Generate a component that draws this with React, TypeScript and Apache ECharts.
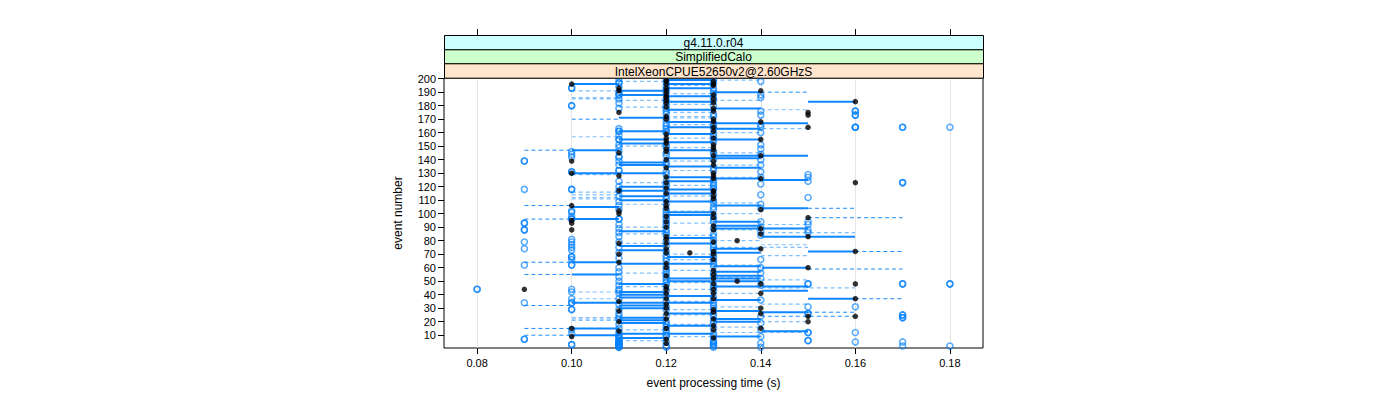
import React, { useEffect, useRef } from "react";
import * as echarts from "echarts";

const xTicks = [0.08, 0.1, 0.12, 0.14, 0.16, 0.18];
const yTicks = [10, 20, 30, 40, 50, 60, 70, 80, 90, 100, 110, 120, 130, 140, 150, 160, 170, 180, 190, 200];
const stripLabels = ["g4.11.0.r04", "SimplifiedCalo", "IntelXeonCPUE52650v2@2.60GHzS"];
const xTitle = "event processing time (s)";
const yTitle = "event number";

// blue open circles: time (hundredths of s) and events at that time
const blueTimes = [8, 9, 10, 11, 12, 13, 14, 15, 16, 17, 18];
const blueEvents = [
  [44, 44],
  [139, 139, 118, 93, 93, 88, 88, 79, 74, 62, 34, 7, 7],
  [193, 193, 180, 180, 146, 144, 142, 131, 131, 118, 118, 102, 101, 98, 96, 96, 81, 79, 77, 75, 73, 68, 68, 66, 62, 62, 44, 42, 37, 34, 34, 29, 29, 14, 11, 3, 3],
  [200, 197, 197, 194, 190, 188, 188, 185, 182, 178, 163, 161, 161, 158, 155, 155, 151, 149, 146, 142, 142, 139, 136, 132, 132, 124, 120, 117, 113, 109, 106, 103, 96, 96, 92, 89, 86, 83, 79, 75, 71, 67, 60, 57, 53, 50, 47, 44, 43, 41, 37, 33, 29, 26, 24, 22, 18, 15, 12, 10, 9, 8, 7, 6, 5, 4, 3, 2, 1, 1, 2, 3, 4, 5],
  [200, 197, 194, 192, 190, 185, 183, 180, 178, 176, 174, 170, 167, 165, 163, 161, 160, 151, 149, 145, 143, 138, 136, 131, 129, 124, 122, 120, 117, 113, 111, 107, 103, 101, 99, 97, 95, 93, 91, 88, 86, 84, 80, 76, 72, 69, 67, 65, 61, 59, 57, 55, 53, 51, 49, 47, 43, 39, 35, 31, 29, 24, 20, 18, 16, 14, 12, 10, 9, 5, 2, 1],
  [199, 197, 193, 191, 189, 186, 184, 180, 174, 172, 167, 165, 163, 159, 157, 155, 153, 146, 144, 140, 134, 132, 125, 123, 121, 119, 118, 114, 110, 108, 105, 103, 98, 96, 94, 89, 85, 83, 80, 77, 75, 73, 69, 67, 65, 63, 61, 56, 54, 47, 45, 43, 38, 36, 34, 32, 30, 26, 24, 21, 19, 15, 11, 9, 6, 5, 4, 3, 2, 1],
  [198, 188, 186, 176, 173, 166, 164, 160, 151, 148, 144, 140, 136, 131, 127, 122, 114, 107, 104, 94, 90, 87, 84, 66, 60, 56, 52, 47, 36, 24, 19, 14, 9, 4, 1],
  [129, 127, 124, 112, 94, 92, 88, 86, 48, 48, 31, 26, 26, 12, 12, 6, 6],
  [176, 176, 173, 173, 164, 164, 164, 31, 12, 5],
  [164, 164, 123, 123, 48, 48, 25, 25, 23, 23, 5, 2],
  [164, 48, 48, 2],
];

// black filled dots: time (hundredths of s) and events
const blackTimes = [9, 10, 11, 12, 12.5, 13, 13.5, 14, 15, 16];
const blackEvents = [
  [44],
  [196, 139, 130, 106, 95, 93, 88, 15, 9],
  [193, 191, 175, 145, 128, 117, 102, 100, 78, 70, 64, 35, 28, 20, 13],
  [199, 198, 196, 193, 191, 189, 187, 186, 184, 182, 179, 172, 170, 159, 156, 154, 152, 148, 146, 140, 134, 127, 123, 119, 115, 109, 106, 104, 98, 94, 90, 83, 81, 78, 74, 71, 63, 60, 54, 46, 44, 41, 37, 33, 30, 26, 22, 15, 7, 4],
  [71],
  [198, 196, 195, 188, 185, 182, 178, 176, 170, 168, 164, 161, 156, 151, 149, 147, 143, 139, 136, 130, 128, 126, 117, 116, 113, 111, 100, 97, 91, 88, 79, 72, 70, 66, 58, 55, 52, 48, 44, 41, 37, 29, 27, 22, 17, 14, 8],
  [80, 50],
  [191, 168, 155, 143, 126, 103, 89, 85, 74, 48, 41, 30, 26, 15],
  [175, 173, 164, 97, 83, 60, 24, 20],
  [183, 123, 72, 48, 37, 24],
];

// segments: [event, from, to] in hundredths of s
const solidSegments = [
  [199, 12, 13], [196, 10, 11], [196, 12, 13], [193, 12, 13], [191, 11, 12], [190, 13, 14], [188, 11, 12], [187, 12, 13],
  [183, 15, 16], [183, 12, 13], [178, 13, 14], [177, 12, 13], [171, 11, 12], [168, 12, 13], [167, 13, 15], [164, 12, 13],
  [163, 13, 14], [161, 11, 12], [159, 12, 13], [155, 11, 12], [155, 13, 14], [153, 12, 13], [152, 11, 12], [147, 10, 11],
  [147, 12, 13], [143, 13, 15], [141, 12, 13], [141, 13, 14], [138, 11, 12], [136, 11, 12], [135, 12, 13], [134, 13, 14],
  [130, 10, 11], [130, 11, 12], [127, 12, 13], [126, 13, 14], [125, 14, 15], [124, 12, 13], [120, 11, 12], [118, 12, 13],
  [117, 11, 12], [115, 12, 13], [113, 11, 12], [110, 11, 12], [109, 12, 13], [106, 13, 14], [105, 10, 11], [104, 14, 15],
  [101, 12, 13], [99, 12, 13], [96, 10, 11], [94, 13, 14], [91, 13, 14], [89, 13, 15], [87, 11, 12], [83, 14, 16],
  [82, 12, 13], [78, 12, 13], [76, 11, 12], [74, 13, 14], [73, 11, 12], [72, 15, 16], [71, 13, 14], [68, 12, 13],
  [64, 10, 11], [63, 11, 13], [61, 13, 14], [60, 14, 15], [57, 13, 14], [55, 10, 11], [54, 13, 14], [52, 12, 14],
  [50, 12, 14], [48, 11, 12], [46, 13, 15], [43, 14, 15], [42, 11, 12], [40, 11, 12], [39, 12, 13], [38, 11, 12],
  [37, 15, 16], [36, 13, 14], [34, 10, 11], [34, 11, 13], [32, 11, 12], [30, 11, 12], [28, 13, 14], [27, 14, 15],
  [26, 12, 13], [23, 11, 12], [22, 13, 14], [21, 11, 12], [20, 13, 14], [19, 11, 12], [17, 12, 13], [15, 10, 11],
  [13, 14, 15], [11, 11, 13], [10, 10, 11], [9, 13, 14], [8, 11, 12],
];

const dashedDarkSegments = [
  [190, 14, 15], [170, 10, 11], [147, 9, 10], [106, 9, 10], [104, 15, 16], [97, 15, 17], [96, 9, 10], [72, 16, 17],
  [64, 9, 10], [59, 15, 17], [55, 9, 10], [37, 16, 17], [32, 9, 10], [27, 15, 16], [24, 14, 16], [15, 9, 10], [10, 9, 10],
];

const dashedLightSegments = [
  [199, 13, 14], [198, 11, 12], [195, 12, 13], [191, 10, 11], [189, 12, 13], [186, 10, 11], [185, 10, 11], [184, 13, 14],
  [184, 11, 12], [181, 12, 13], [179, 11, 12], [177, 14, 15], [175, 12, 13], [172, 12, 13], [171, 12, 13], [166, 12, 13],
  [163, 13, 15], [160, 13, 14], [157, 10, 11], [156, 12, 13], [150, 11, 12], [149, 12, 13], [145, 13, 14], [139, 12, 13],
  [136, 13, 14], [132, 12, 13], [129, 10, 11], [127, 13, 14], [123, 11, 12], [121, 12, 13], [116, 10, 11], [114, 10, 11],
  [113, 12, 13], [112, 10, 11], [111, 10, 11], [108, 13, 14], [107, 11, 12], [102, 12, 13], [100, 13, 14], [93, 12, 13],
  [92, 14, 15], [90, 11, 12], [88, 13, 14], [86, 14, 16], [85, 11, 12], [84, 12, 13], [80, 13, 14], [78, 11, 12],
  [77, 14, 15], [75, 13, 15], [70, 12, 13], [69, 14, 15], [66, 12, 13], [62, 13, 14], [58, 12, 13], [56, 11, 12],
  [53, 13, 14], [51, 14, 15], [49, 12, 13], [46, 11, 12], [45, 14, 16], [44, 12, 13], [42, 10, 11], [41, 13, 14],
  [37, 10, 11], [35, 12, 13], [33, 14, 15], [31, 13, 14], [29, 12, 13], [25, 12, 13], [23, 10, 11], [22, 10, 11],
  [21, 10, 11], [20, 14, 15], [18, 12, 13], [16, 13, 14], [14, 11, 12], [12, 13, 15], [9, 12, 13], [6, 11, 12],
];

const FONT = "'Liberation Sans', Arial, sans-serif";
const BLUE = "#0080ff";

function segmentSeries(data: number[][], style: any, z: number) {
  return {
    type: "custom",
    z,
    silent: true,
    data: data.map(([e, a, b]) => [e, a / 100, b / 100]),
    encode: { x: [1, 2], y: 0 },
    renderItem: (_params: any, api: any) => {
      const e = api.value(0);
      const p1 = api.coord([api.value(1), e]);
      const p2 = api.coord([api.value(2), e]);
      return {
        type: "line",
        shape: { x1: p1[0], y1: p1[1], x2: p2[0], y2: p2[1] },
        style,
      };
    },
  };
}

export default function App() {
  const ref = useRef<HTMLDivElement>(null);
  useEffect(() => {
    if (!ref.current) return;
    const chart = echarts.init(ref.current, undefined, { renderer: "svg" });
    const gridLeft = 444;
    const gridTop = 78;
    const gridW = 539;
    const gridH = 270;
    const stripH = [14.3, 14, 14.4];
    const stripColors = ["#ccffff", "#ccffcc", "#ffe5cc"];
    let sy = 35;
    const strips: any[] = [];
    stripLabels.forEach((lab, i) => {
      strips.push({
        type: "rect",
        shape: { x: gridLeft + 0.5, y: sy + 0.5, width: gridW, height: stripH[i] },
        style: { fill: stripColors[i], stroke: "#000", lineWidth: 1 },
        z: 10,
      });
      strips.push({
        type: "text",
        x: gridLeft + gridW / 2,
        y: sy + stripH[i] / 2 + 1,
        style: { text: lab, fill: "#000", font: `12px ${FONT}`, textAlign: "center", textVerticalAlign: "middle" },
        z: 11,
      });
      sy += stripH[i];
    });

    const blueData: number[][] = [];
    blueTimes.forEach((t, i) => blueEvents[i].forEach((e) => blueData.push([t / 100, e])));
    const blackData: number[][] = [];
    blackTimes.forEach((t, i) => blackEvents[i].forEach((e) => blackData.push([t / 100, e])));

    chart.setOption({
      animation: false,
      grid: {
        left: gridLeft,
        top: gridTop,
        width: gridW,
        height: gridH,
        show: true,
        borderColor: "#000",
        borderWidth: 1,
        backgroundColor: "transparent",
      },
      xAxis: [
        {
          type: "value",
          min: 0.073,
          max: 0.187,
          position: "bottom",
          axisLine: { show: false },
          splitLine: { show: false },
          axisTick: { show: true, length: 6, customValues: xTicks, lineStyle: { color: "#000" } },
          axisLabel: {
            customValues: xTicks,
            margin: 9,
            color: "#000000",
            fontFamily: FONT,
            fontSize: 11,
            formatter: (v: number) => v.toFixed(2),
          },
        },
        {
          type: "value",
          min: 0.073,
          max: 0.187,
          position: "top",
          offset: 43,
          axisLine: { show: false },
          splitLine: { show: false },
          axisTick: { show: true, length: 6, customValues: xTicks, lineStyle: { color: "#000" } },
          axisLabel: { show: false },
        },
      ],
      yAxis: {
        type: "value",
        min: 0.5,
        max: 200.5,
        axisLine: { show: false },
        splitLine: { show: false },
        axisTick: { show: true, length: 6, customValues: yTicks, lineStyle: { color: "#000" } },
        axisLabel: {
          customValues: yTicks,
          margin: 8,
          color: "#000000",
          fontFamily: FONT,
          fontSize: 11,
        },
      },
      graphic: [
        ...strips,
        {
          type: "text",
          x: gridLeft + gridW / 2,
          y: 383,
          style: { text: xTitle, fill: "#000", font: `12px ${FONT}`, textAlign: "center", textVerticalAlign: "middle" },
        },
        {
          type: "text",
          x: 398,
          y: gridTop + gridH / 2,
          rotation: Math.PI / 2,
          style: { text: yTitle, fill: "#000", font: `12px ${FONT}`, textAlign: "center", textVerticalAlign: "middle" },
        },
      ],
      series: [
        {
          type: "scatter",
          data: [],
          silent: true,
          z: 1,
          markLine: {
            silent: true,
            symbol: ["none", "none"],
            label: { show: false },
            lineStyle: { color: "#e6e6e6", width: 1, type: "solid" },
            data: xTicks.map((v) => ({ xAxis: v })),
          },
        },
        segmentSeries(dashedLightSegments, { stroke: BLUE, lineWidth: 1.2, lineDash: [4, 3], opacity: 0.5 }, 2),
        segmentSeries(dashedDarkSegments, { stroke: BLUE, lineWidth: 1, lineDash: [4, 3], opacity: 0.9 }, 3),
        segmentSeries(solidSegments, { stroke: BLUE, lineWidth: 2, opacity: 0.95 }, 4),
        {
          type: "scatter",
          z: 5,
          silent: true,
          data: blueData,
          symbol: "circle",
          symbolSize: 6,
          itemStyle: { color: "rgba(0,0,0,0)", borderColor: BLUE, borderWidth: 1.6, opacity: 0.65 },
        },
        {
          type: "scatter",
          z: 6,
          silent: true,
          data: blackData,
          symbol: "circle",
          symbolSize: 5.5,
          itemStyle: { color: "#000" },
        },
      ],
    });
    return () => chart.dispose();
  }, []);
  return <div ref={ref} style={{ position: "absolute", left: 0, top: 0, width: 1400, height: 400 }} />;
}
